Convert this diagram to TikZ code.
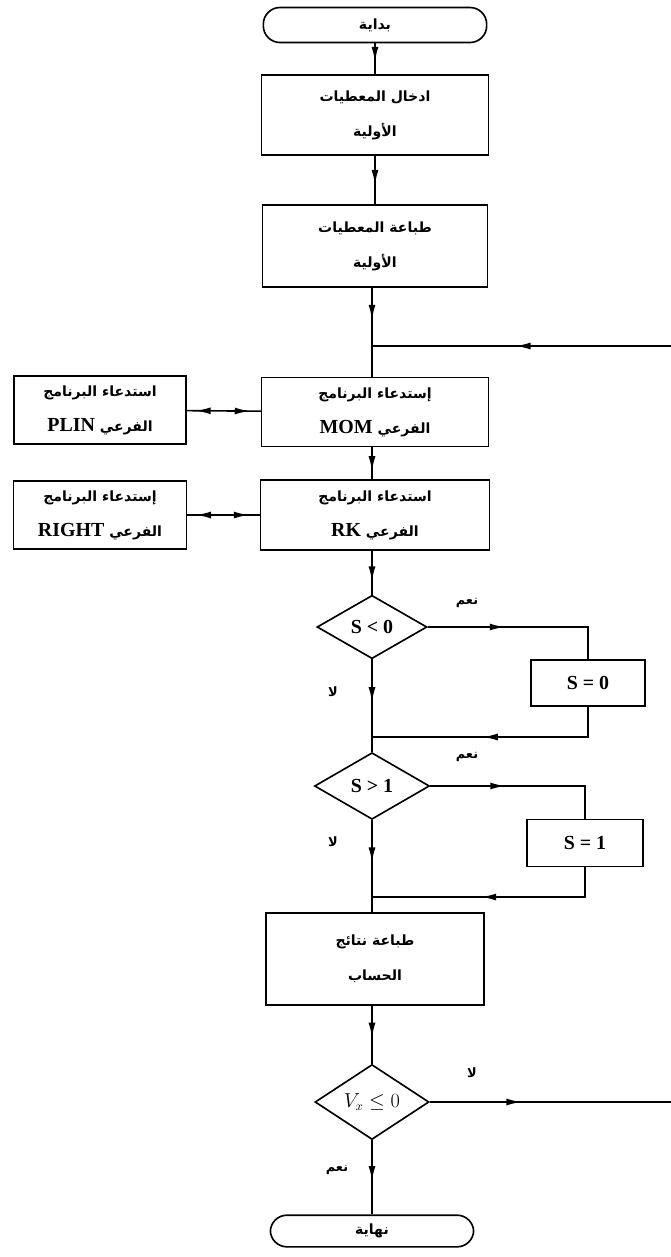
\documentclass[tikz,border=0pt]{standalone}
\usepackage{fontspec}
\setmainfont{Liberation Serif}
\newfontfamily\arfont[Script=Arabic]{DejaVu Sans}
\TeXXeTstate=1
\usetikzlibrary{shapes.geometric,arrows.meta,decorations.markings}

\newcommand{\ar}[1]{\beginR #1\endR}
\newcommand{\lat}[1]{\beginL{\normalfont\bfseries\fontsize{17}{20}\selectfont #1}\endL}

\tikzset{
  flow/.style={line width=1.4pt},
  box/.style={draw, line width=1.4pt, rectangle, align=center, inner sep=2pt,
    font=\arfont\bfseries\fontsize{12}{30}\selectfont},
  term/.style={box, rounded corners=0.5cm},
  decide/.style={draw, line width=1.4pt, diamond, inner sep=0pt,
    font=\bfseries\fontsize{17}{20}\selectfont},
  lbl/.style={font=\arfont\bfseries\fontsize{11}{12}\selectfont, inner sep=1pt},
  tipat/.style={postaction={decorate, decoration={markings,
    mark=at position #1 with {\arrow{Latex[length=4.5mm,width=2.1mm]}}}}},
  tipback/.style={postaction={decorate, decoration={markings,
    mark=at position #1 with {\arrowreversed{Latex[length=4.5mm,width=2.1mm]}}}}}
}

\begin{document}
\begin{tikzpicture}[x=0.03cm, y=-0.03cm]
		\useasboundingbox (0,0) rectangle (671,1257);
		% Main column
		\node[term, minimum width=6.7cm, minimum height=1.05cm] at (375,25) (start) {\ar{بداية}};
		\node[box, minimum width=6.8cm, minimum height=2.4cm] at (375,115) (in1) {\ar{ادخال المعطيات}\\\ar{الأولية}};
		\node[box, minimum width=6.75cm, minimum height=2.46cm] at (375,246) (out1) {\ar{طباعة المعطيات}\\\ar{الأولية}};
		\node[box, minimum width=6.8cm, minimum height=2.07cm] at (375,412) (mom) {\ar{إستدعاء البرنامج}\\\ar{الفرعي \lat{MOM}}};
		\node[box, minimum width=6.87cm, minimum height=2.1cm] at (375,515) (rk) {\ar{استدعاء البرنامج}\\\ar{الفرعي \lat{RK}}};
		\node[decide, minimum width=3.3cm, minimum height=1.9cm] at (372,627) (d1) {S < 0};
		\node[decide, minimum width=3.45cm, minimum height=2.0cm] at (372,786) (d2) {S > 1};
		\node[box, minimum width=6.54cm, minimum height=2.76cm] at (375,959) (res) {\ar{طباعة نتائج}\\\ar{الحساب}};
		\node[decide, font=\fontsize{16}{18}\selectfont, minimum width=3.42cm, minimum height=2.25cm] at (372,1102) (d3) {$V_x \leq 0$};
		\node[term, minimum width=6.1cm, minimum height=0.95cm] at (372,1231) (end) {\ar{نهاية}};
		% Side boxes
		\node[box, minimum width=5.16cm, minimum height=2.04cm] at (100,410) (plin) {\ar{استدعاء البرنامج}\\\ar{الفرعي \lat{PLIN}}};
		\node[box, minimum width=5.19cm, minimum height=2.04cm] at (100,515) (rightsub) {\ar{إستدعاء البرنامج}\\\ar{الفرعي \lat{RIGHT}}};
		\node[box, font=\bfseries\fontsize{17}{20}\selectfont, minimum width=3.42cm, minimum height=1.38cm] at (588,683) (s0) {S = 0};
		\node[box, font=\bfseries\fontsize{17}{20}\selectfont, minimum width=3.48cm, minimum height=1.41cm] at (585,843) (s1) {S = 1};
		% Junctions
		\coordinate (jtop) at (372,346);
		\coordinate (loopin) at (671,346);
		\coordinate (j1) at (372,737);
		\coordinate (j2) at (372,897);
		\coordinate (loopout) at (671,1102);
		% Labels
		\node[lbl] at (467,603) (yes1) {\ar{نعم}};
		\node[lbl] at (333,692) (no1) {\ar{لا}};
		\node[lbl] at (467,757) (yes2) {\ar{نعم}};
		\node[lbl] at (333,842) (no2) {\ar{لا}};
		\node[lbl] at (472,1073) (no3) {\ar{لا}};
		\node[lbl] at (337,1170) (yes3) {\ar{نعم}};
		% Connectors
		\draw[flow, tipat=0.6] (start) -- (in1);
		\draw[flow, tipat=0.6] (in1) -- (out1);
		\draw[flow, tipat=0.55] (out1.south -| jtop) -- (jtop);
		\draw[flow] (jtop) -- (mom.north -| jtop);
		\draw[flow, tipat=0.52] (loopin) -- (jtop);
		\draw[flow, tipat=0.75] (mom.south -| jtop) -- (rk.north -| jtop);
		\draw[flow, tipat=0.7] (rk.south -| jtop) -- (d1.north);
		\draw[flow, tipat=0.85, tipback=0.12] (plin) -- (mom);
		\draw[flow, tipat=0.85, tipback=0.12] (rightsub) -- (rk);
		\draw[flow, tipat=0.4] (d1.east) -- (d1.east -| s0) -- (s0.north);
		\draw[flow, tipat=0.55] (s0.south) -- (s0.south |- j1) -- (j1);
		\draw[flow, tipat=0.55] (d1.south) -- (j1);
		\draw[flow] (j1) -- (d2.north);
		\draw[flow, tipat=0.4] (d2.east) -- (d2.east -| s1) -- (s1.north);
		\draw[flow, tipat=0.55] (s1.south) -- (s1.south |- j2) -- (j2);
		\draw[flow, tipat=0.55] (d2.south) -- (j2);
		\draw[flow] (j2) -- (res.north -| j2);
		\draw[flow, tipat=0.55] (res.south -| d3) -- (d3.north);
		\draw[flow, tipat=0.38] (d3.east) -- (loopout);
		\draw[flow, tipat=0.55] (d3.south) -- (end.north -| d3);
	\end{tikzpicture}
\end{document}
